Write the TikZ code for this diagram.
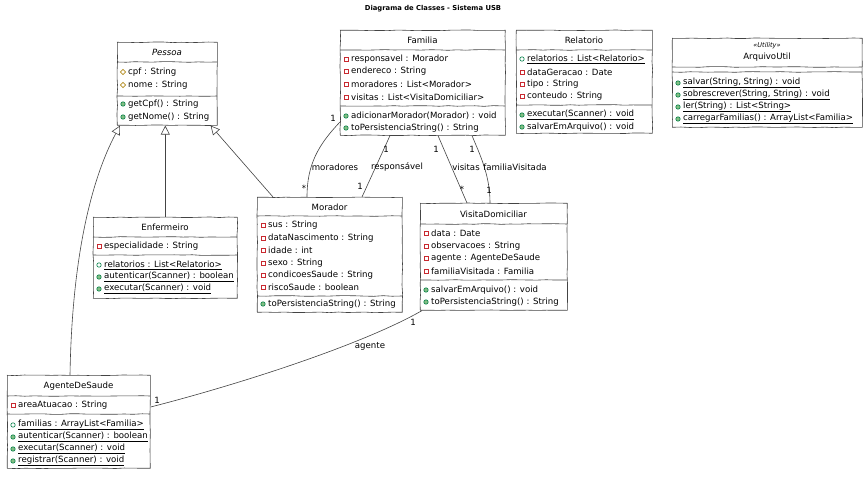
\documentclass[tikz,border=0pt]{standalone}
\usepackage{fontspec}
\setmainfont{DejaVu Sans}
\usetikzlibrary{arrows.meta,calc,decorations.pathmorphing}
\definecolor{ln}{HTML}{444444}
\definecolor{priv}{HTML}{C82930}
\definecolor{prot}{HTML}{B38D22}
\definecolor{pub}{HTML}{038048}
\definecolor{pubm}{HTML}{84BE84}
\newcounter{mc}
\newcommand{\txtfont}{\fontsize{8.6}{10}\selectfont}
\tikzset{
  sketch/.style={decorate, decoration={random steps, segment length=9pt, amplitude=0.35pt}},
  classbox/.style={draw=ln, fill=white, line width=0.6pt, inner sep=0pt, anchor=north west, sketch},
  sepline/.style={draw=ln, line width=0.6pt, sketch},
  memtext/.style={anchor=west, inner sep=0pt, font=\txtfont, text=black},
  headtext/.style={inner sep=0pt, font=\txtfont, text=black},
  lbl/.style={inner sep=0pt, font=\txtfont, text=black},
  conn/.style={draw=ln, line width=0.6pt},
  inh/.style={conn, -{Triangle[open, length=9pt, width=9pt, fill=white]}},
  privf/.pic={\draw[priv, line width=0.6pt] (-2,-2) rectangle (2,2);},
  protf/.pic={\draw[prot, line width=0.6pt] (0,-2.6) -- (2.6,0) -- (0,2.6) -- (-2.6,0) -- cycle;},
  pubf/.pic={\draw[pub, line width=0.6pt] (0,0) circle[radius=2.2pt];},
  pubm/.pic={\draw[pub, fill=pubm, line width=0.6pt] (0,0) circle[radius=2.2pt];},
}
% #1 box left x, #2 y, #3 icon pic, #4 text
\newcommand{\mem}[4]{\stepcounter{mc}\pic at (#1+6,#2) {#3};\node[memtext] (m\arabic{mc}) at (#1+11,#2) {#4};}
\newcommand{\sepl}[3]{\draw[sepline] (#1,#3) -- (#1+#2,#3);}

\begin{document}
\begin{tikzpicture}[x=1pt, y=-1pt]
\pgfmathsetseed{7}
\fill[white] (0,0) rectangle (864,478);
\useasboundingbox (0,0) rectangle (864,478);

\node[headtext, font=\fontsize{6.8}{8}\selectfont\bfseries] (title) at (433,9) {Diagrama de Classes - Sistema USB};

% ---------- Pessoa ----------
\node[classbox, minimum width=100pt, minimum height=83pt] (pes) at (117,42) {};
\node[headtext, font=\txtfont\itshape] (pesn) at (167,52) {Pessoa};
\sepl{117}{100}{62}
\mem{117}{72}{protf}{cpf : String}
\mem{117}{85}{protf}{nome : String}
\sepl{117}{100}{96}
\mem{117}{104}{pubm}{getCpf() : String}
\mem{117}{117}{pubm}{getNome() : String}

% ---------- Familia ----------
\node[classbox, minimum width=165pt, minimum height=105pt] (fam) at (340,30) {};
\node[headtext] (famn) at (422.5,40) {Familia};
\sepl{340}{165}{50}
\mem{340}{59}{privf}{responsavel : Morador}
\mem{340}{71}{privf}{endereco : String}
\mem{340}{84}{privf}{moradores : List<Morador>}
\mem{340}{97}{privf}{visitas : List<VisitaDomiciliar>}
\sepl{340}{165}{106}
\mem{340}{116}{pubm}{adicionarMorador(Morador) : void}
\mem{340}{128}{pubm}{toPersistenciaString() : String}

% ---------- Relatorio ----------
\node[classbox, minimum width=136pt, minimum height=103pt] (rel) at (516,30) {};
\node[headtext] (reln) at (584,40) {Relatorio};
\sepl{516}{136}{50}
\mem{516}{59}{pubf}{\underline{relatorios : List<Relatorio>}}
\mem{516}{72}{privf}{dataGeracao : Date}
\mem{516}{84}{privf}{tipo : String}
\mem{516}{96}{privf}{conteudo : String}
\sepl{516}{136}{105}
\mem{516}{115}{pubm}{\underline{executar(Scanner) : void}}
\mem{516}{127}{pubm}{salvarEmArquivo() : void}

% ---------- ArquivoUtil ----------
\node[classbox, minimum width=190pt, minimum height=89pt] (arq) at (672,38) {};
\node[headtext, font=\fontsize{6.5}{8}\selectfont\itshape] (arqs) at (767,46) {«Utility»};
\node[headtext] (arqn) at (767,57) {ArquivoUtil};
\sepl{672}{190}{67}
\sepl{672}{190}{72}
\mem{672}{83}{pubm}{\underline{salvar(String, String) : void}}
\mem{672}{95}{pubm}{\underline{sobrescrever(String, String) : void}}
\mem{672}{107}{pubm}{\underline{ler(String) : List<String>}}
\mem{672}{119}{pubm}{\underline{carregarFamilias() : ArrayList<Familia>}}

% ---------- Enfermeiro ----------
\node[classbox, minimum width=144pt, minimum height=81pt] (enf) at (93,217) {};
\node[headtext] (enfn) at (165,227) {Enfermeiro};
\sepl{93}{144}{237}
\mem{93}{246}{privf}{especialidade : String}
\sepl{93}{144}{255}
\mem{93}{265}{pubf}{\underline{relatorios : List<Relatorio>}}
\mem{93}{277}{pubm}{\underline{autenticar(Scanner) : boolean}}
\mem{93}{289}{pubm}{\underline{executar(Scanner) : void}}

% ---------- Morador ----------
\node[classbox, minimum width=145pt, minimum height=115pt] (mor) at (257,197) {};
\node[headtext] (morn) at (329.5,207) {Morador};
\sepl{257}{145}{216}
\mem{257}{225}{privf}{sus : String}
\mem{257}{238}{privf}{dataNascimento : String}
\mem{257}{250}{privf}{idade : int}
\mem{257}{263}{privf}{sexo : String}
\mem{257}{275}{privf}{condicoesSaude : String}
\mem{257}{287}{privf}{riscoSaude : boolean}
\sepl{257}{145}{296}
\mem{257}{304}{pubm}{toPersistenciaString() : String}

% ---------- VisitaDomiciliar ----------
\node[classbox, minimum width=147pt, minimum height=107pt] (vis) at (420,203) {};
\node[headtext] (visn) at (493.5,214) {VisitaDomiciliar};
\sepl{420}{147}{224}
\mem{420}{233}{privf}{data : Date}
\mem{420}{246}{privf}{observacoes : String}
\mem{420}{258}{privf}{agente : AgenteDeSaude}
\mem{420}{271}{privf}{familiaVisitada : Familia}
\sepl{420}{147}{280}
\mem{420}{290}{pubm}{salvarEmArquivo() : void}
\mem{420}{302}{pubm}{toPersistenciaString() : String}

% ---------- AgenteDeSaude ----------
\node[classbox, minimum width=143pt, minimum height=93pt] (age) at (7,375) {};
\node[headtext] (agen) at (78.5,386) {AgenteDeSaude};
\sepl{7}{143}{396}
\mem{7}{405}{privf}{areaAtuacao : String}
\sepl{7}{143}{414}
\mem{7}{425}{pubf}{\underline{familias : ArrayList<Familia>}}
\mem{7}{437}{pubm}{\underline{autenticar(Scanner) : boolean}}
\mem{7}{449}{pubm}{\underline{executar(Scanner) : void}}
\mem{7}{461}{pubm}{\underline{registrar(Scanner) : void}}

% ---------- Inheritance ----------
\draw[inh] (enf.north) -- (enf.north |- pes.south);
\draw[inh] ($(mor.north west)+(16,0)$) -- ($(pes.south east)+(-7,0)$);
\draw[inh] ($(age.north west)+(63,0)$) .. controls (72,255) and (92,178) .. ($(pes.south west)+(3,0)$);

% ---------- Associations ----------
\draw[conn] ($(fam.north west)+(0,92)$) .. controls (318,145) and (307,165) .. ($(mor.north west)+(50,0)$);
\draw[conn] ($(fam.south west)+(50,0)$) -- ($(mor.north west)+(105,0)$);
\draw[conn] ($(fam.south west)+(98,0)$) -- ($(vis.north west)+(47,0)$);
\draw[conn] ($(fam.south west)+(132,0)$) .. controls (480,155) and (490,175) .. ($(vis.north west)+(70,0)$);
\draw[conn] ($(vis.south west)+(2,0)$) .. controls (360,346) and (233,386) .. ($(age.north east)+(0,32)$);

% ---------- Labels ----------
\node[lbl] (l1) at (333,118) {1};
\node[lbl] (l2) at (304,188) {*};
\node[lbl] (l3) at (335,167) {moradores};
\node[lbl] (l4) at (386,149) {1};
\node[lbl] (l5) at (360,186) {1};
\node[lbl] (l6) at (397,167) {responsável};
\node[lbl] (l7) at (436,149) {1};
\node[lbl] (l8) at (462,189) {*};
\node[lbl] (l9) at (466,167) {visitas};
\node[lbl] (l10) at (472,149) {1};
\node[lbl] (l11) at (489,190) {1};
\node[lbl] (l12) at (515,167) {familiaVisitada};
\node[lbl] (l13) at (413,322) {1};
\node[lbl] (l14) at (370,346) {agente};
\node[lbl] (l15) at (157,400) {1};
\end{tikzpicture}
\end{document}
